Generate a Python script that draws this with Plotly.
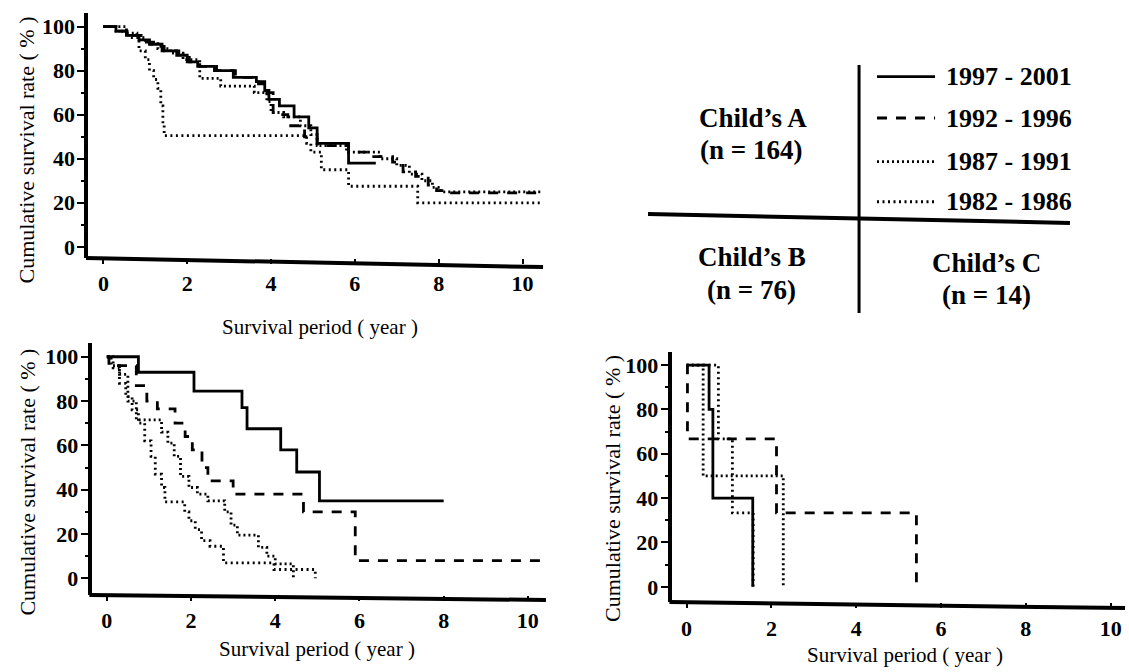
import plotly.graph_objects as go

# ---------------- data (Kaplan-Meier step curves) ----------------
periods = ["1997 - 2001", "1992 - 1996", "1987 - 1991", "1982 - 1986"]

# Child's A (n = 164)
a_1997_t = [0, 0.3, 0.55, 0.85, 1.1, 1.4, 1.75, 2.0, 2.25, 2.65, 3.1, 3.65, 3.85, 3.95, 4.2, 4.55, 4.9, 5.1, 5.85, 6.5]
a_1997_s = [100, 98, 96, 94, 92, 89, 87, 84, 82, 80, 77, 75, 71, 67, 64, 59, 54, 47, 38, 38]
a_1992_t = [0, 0.3, 0.6, 0.9, 1.15, 1.45, 1.8, 2.05, 2.3, 2.7, 3.15, 3.7, 3.9, 4.05, 4.4, 4.8, 5.1, 5.85, 6.45, 6.9, 7.15, 7.45, 7.75, 7.95, 8.2, 10.45]
a_1992_s = [100, 98, 96, 93, 91, 89, 86, 84, 82, 80, 77, 74, 70, 60, 55, 50, 46, 43, 41, 38.5, 34, 32, 28, 25.5, 24.5, 24.5]
a_1987_t = [0, 0.55, 0.8, 1.0, 1.3, 1.6, 1.9, 2.3, 2.8, 3.6, 3.9, 4.0, 4.3, 4.7, 4.95, 5.1, 5.8, 6.6, 7.0, 7.3, 7.6, 7.85, 8.05, 10.45]
a_1987_s = [100, 97, 95, 93, 90, 88, 85, 76.5, 73, 70, 66, 61, 59, 55, 51, 46, 43, 40, 37, 33, 30, 27, 25, 25]
a_1982_t = [0, 0.3, 0.6, 0.85, 1.0, 1.1, 1.2, 1.3, 1.37, 1.42, 1.45, 4.85, 4.95, 5.2, 5.85, 7.5, 10.45]
a_1982_s = [100, 98, 95, 89, 85, 80, 76, 72, 64, 56, 50.5, 47, 43, 35, 27.5, 20, 20]

# Child's B (n = 76)
b_1997_t = [0, 0.75, 2.07, 3.21, 3.33, 4.13, 4.51, 5.05, 8.0]
b_1997_s = [100, 93, 84.5, 77, 67.5, 58, 48, 35, 35]
b_1992_t = [0, 0.05, 0.7, 0.95, 1.2, 1.62, 1.86, 2.03, 2.26, 2.4, 3.0, 4.67, 5.9, 10.45]
b_1992_s = [100, 96, 87, 80, 76.5, 70, 64, 58, 50, 44, 38, 30, 8, 8]
b_1987_t = [0, 0.1, 0.3, 0.5, 0.7, 1.3, 1.45, 1.6, 1.75, 1.95, 2.15, 2.4, 2.8, 2.95, 3.1, 3.6, 3.8, 4.0, 4.43]
b_1987_s = [100, 96, 92, 80, 71.5, 66, 61, 55, 46, 41, 38, 35, 30, 24, 19.5, 14, 10, 6.5, 0]
b_1982_t = [0, 0.15, 0.3, 0.45, 0.6, 0.75, 0.9, 1.05, 1.15, 1.3, 1.38, 1.85, 1.95, 2.1, 2.25, 2.45, 2.77, 3.97, 4.95]
b_1982_s = [100, 95, 88, 82, 76, 70, 62, 55, 47, 41, 34.5, 30, 26, 22, 17, 14.5, 7, 4, 0]

# Child's C (n = 14)
c_1997_t = [0, 0.53, 0.62, 1.56]
c_1997_s = [100, 80, 40, 0]
c_1992_t = [0, 0.02, 2.12, 5.42]
c_1992_s = [100, 66.7, 33.3, 0]
c_1987_t = [0, 0.39, 2.28]
c_1987_s = [100, 50, 0]
c_1982_t = [0, 0.75, 1.08, 1.57]
c_1982_s = [100, 66.7, 33.3, 0]

groups = [
    ("Child\u2019s A", "(n = 164)"),
    ("Child\u2019s B", "(n = 76)"),
    ("Child\u2019s C", "(n = 14)"),
]
x_ticks = [0, 2, 4, 6, 8, 10]
y_ticks = [0, 20, 40, 60, 80, 100]
x_title = "Survival period ( year )"
y_title = "Cumulative survival rate ( % )"

# ---------------- styling ----------------
FONT = "Liberation Serif, Times New Roman, serif"
styles = {
    "1997 - 2001": dict(color="black", width=2.8, dash="solid"),
    "1992 - 1996": dict(color="black", width=2.8, dash="10px,9px"),
    "1987 - 1991": dict(color="black", width=2.8, dash="2px,3px"),
    "1982 - 1986": dict(color="black", width=2.8, dash="2px,3.5px"),
}

panels = [
    # (axis suffix, curves, x domain, y domain, x range, y range, bottom-line slope)
    ("", [(a_1997_t, a_1997_s), (a_1992_t, a_1992_s), (a_1987_t, a_1987_s), (a_1982_t, a_1982_s)],
     [0.0782, 0.481], [0.616, 0.980], [-0.36, 10.49], [-5.1, 106], -0.037),
    ("2", [(b_1997_t, b_1997_s), (b_1992_t, b_1992_s), (b_1987_t, b_1987_s), (b_1982_t, b_1982_s)],
     [0.0812, 0.4836], [0.1146, 0.4896], [-0.36, 10.43], [-7.5, 106.2], -0.02),
    ("3", [(c_1997_t, c_1997_s), (c_1992_t, c_1992_s), (c_1987_t, c_1987_s), (c_1982_t, c_1982_s)],
     [0.595, 0.9965], [0.104, 0.4766], [-0.35, 10.34], [-6.9, 106], -0.024),
]

fig = go.Figure()
shapes = []
annotations = []
layout_axes = {}

for suffix, curves, xd, yd, xr, yr, slope in panels:
    xa = "x" + suffix
    ya = "y" + suffix
    for name, (t, s) in zip(periods, curves):
        fig.add_trace(go.Scatter(
            x=t, y=s, mode="lines", name=name, xaxis=xa, yaxis=ya,
            line=dict(shape="hv", **styles[name]), showlegend=False,
            hoverinfo="skip",
        ))
    layout_axes["xaxis" + suffix] = dict(
        domain=xd, range=xr, anchor=ya, showgrid=False, zeroline=False,
        showline=False, ticks="outside", ticklen=5, tickwidth=2, tickcolor="black",
        tickvals=x_ticks, ticktext=[str(v) for v in x_ticks],
        tickfont=dict(family=FONT, size=22, color="black", weight="bold"),
        ticklabelstandoff=1, fixedrange=True,
    )
    layout_axes["yaxis" + suffix] = dict(
        domain=yd, range=yr, anchor=xa, showgrid=False, zeroline=False,
        showline=True, linewidth=4, linecolor="black",
        ticks="outside", ticklen=7, tickwidth=2, tickcolor="black",
        tickvals=y_ticks, ticktext=[str(v) for v in y_ticks],
        minor=dict(ticks="outside", ticklen=3, tickwidth=1.5, tickcolor="black", dtick=10, tick0=0),
        tickfont=dict(family=FONT, size=22, color="black", weight="bold"),
        ticklabelstandoff=-2, fixedrange=True,
    )
    # slightly slanted bottom axis line (scanned figure)
    shapes.append(dict(type="line", xref=xa + " domain", yref=ya + " domain",
                       x0=-0.005, y0=0, x1=1, y1=slope,
                       line=dict(color="black", width=4)))

# axis titles
title_font = dict(family=FONT, size=22, color="black")
for (x, y) in [(0.0235, 0.7768), (0.0235, 0.2827), (0.542, 0.2738)]:
    annotations.append(dict(text=y_title, x=x, y=y, xref="paper", yref="paper",
                            textangle=-90, showarrow=False, font=title_font,
                            xanchor="center", yanchor="middle"))
for (x, y) in [(0.2834, 0.5135), (0.2808, 0.0345), (0.8016, 0.0255)]:
    annotations.append(dict(text=x_title, x=x, y=y, xref="paper", yref="paper",
                            showarrow=False, font=dict(family=FONT, size=21, color="black"),
                            xanchor="center", yanchor="middle"))

# key diagram: cross lines
shapes.append(dict(type="line", xref="paper", yref="paper", x0=0.7609, y0=0.9033, x1=0.7609, y1=0.5342,
                   line=dict(color="black", width=3)))
shapes.append(dict(type="line", xref="paper", yref="paper", x0=0.574, y0=0.6815, x1=0.9477, y1=0.6682,
                   line=dict(color="black", width=4)))

# key: line samples + labels
legend_rows_y = [0.8859, 0.8244, 0.7594, 0.6998]
for name, yy in zip(periods, legend_rows_y):
    st = styles[name]
    shapes.append(dict(type="line", xref="paper", yref="paper", x0=0.7768, y0=yy, x1=0.8282, y1=yy,
                       line=dict(color=st["color"], width=st["width"], dash=st["dash"])))
    annotations.append(dict(text=name, x=0.836, y=yy, xref="paper", yref="paper",
                            showarrow=False, xanchor="left", yanchor="middle",
                            font=dict(family=FONT, size=26, color="black", weight="bold")))

# group labels
group_pos = [((0.667, 0.8244), (0.665, 0.7768)),
             ((0.666, 0.6176), (0.666, 0.5685)),
             ((0.8742, 0.6086), (0.8742, 0.561))]
for (label, n), ((x1, y1), (x2, y2)) in zip(groups, group_pos):
    for txt, x, y in [(label, x1, y1), (n, x2, y2)]:
        annotations.append(dict(text=txt, x=x, y=y, xref="paper", yref="paper",
                                showarrow=False, xanchor="center", yanchor="middle",
                                font=dict(family=FONT, size=27, color="black", weight="bold")))

fig.update_layout(
    width=1129, height=672,
    margin=dict(l=0, r=0, t=0, b=0),
    paper_bgcolor="white", plot_bgcolor="white",
    showlegend=False,
    shapes=shapes, annotations=annotations,
    **layout_axes,
)

fig.write_html("out.html", config={"displayModeBar": False},
               post_script="document.body.style.margin='0';document.body.style.overflow='hidden';")
